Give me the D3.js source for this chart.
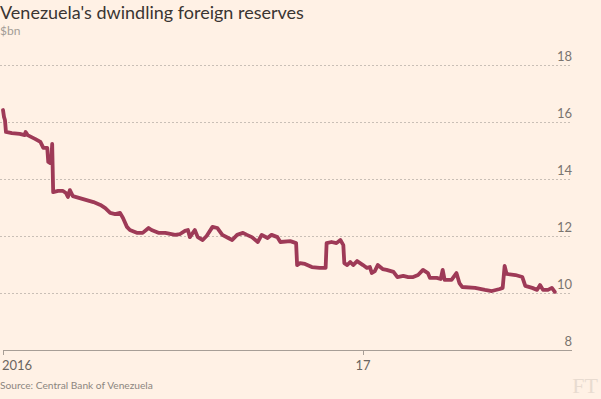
<!DOCTYPE html>
<html>
<head>
<meta charset="utf-8">
<script src="https://cdn.jsdelivr.net/npm/d3@7"></script>
<style>
  body { margin: 0; background: #fff1e5; }
  svg { display: block; }
</style>
</head>
<body>
<script>
var width = 601,
  height = 399;

// reserves, $bn
var dates = [
  "2016-01-01", "2016-01-02", "2016-01-03", "2016-01-04", "2016-01-10", "2016-01-18", "2016-01-23", "2016-01-24",
  "2016-01-26", "2016-01-30", "2016-02-03", "2016-02-08", "2016-02-11", "2016-02-15", "2016-02-16", "2016-02-18",
  "2016-02-19", "2016-02-20", "2016-02-21", "2016-02-26", "2016-03-02", "2016-03-05", "2016-03-07", "2016-03-09",
  "2016-03-12", "2016-03-19", "2016-03-26", "2016-04-02", "2016-04-09", "2016-04-14", "2016-04-19", "2016-04-24",
  "2016-04-29", "2016-05-02", "2016-05-06", "2016-05-09", "2016-05-16", "2016-05-22", "2016-05-28", "2016-05-31",
  "2016-06-07", "2016-06-14", "2016-06-24", "2016-06-29", "2016-07-04", "2016-07-07", "2016-07-09", "2016-07-14",
  "2016-07-17", "2016-07-22", "2016-07-26", "2016-08-01", "2016-08-06", "2016-08-11", "2016-08-17", "2016-08-21",
  "2016-08-26", "2016-09-01", "2016-09-05", "2016-09-10", "2016-09-16", "2016-09-20", "2016-09-26", "2016-09-30",
  "2016-10-06", "2016-10-09", "2016-10-19", "2016-10-25", "2016-10-26", "2016-10-29", "2016-11-03", "2016-11-10",
  "2016-11-18", "2016-11-24", "2016-11-25", "2016-11-30", "2016-12-05", "2016-12-09", "2016-12-12", "2016-12-13",
  "2016-12-16", "2016-12-19", "2016-12-22", "2016-12-26", "2016-12-29", "2017-01-01", "2017-01-05", "2017-01-08",
  "2017-01-10", "2017-01-13", "2017-01-16", "2017-01-21", "2017-01-25", "2017-02-01", "2017-02-05", "2017-02-11",
  "2017-02-16", "2017-02-21", "2017-02-26", "2017-03-03", "2017-03-08", "2017-03-10", "2017-03-17", "2017-03-21",
  "2017-03-23", "2017-03-25", "2017-04-01", "2017-04-06", "2017-04-09", "2017-04-12", "2017-04-25", "2017-05-05",
  "2017-05-12", "2017-05-20", "2017-05-23", "2017-05-25", "2017-05-27", "2017-06-05", "2017-06-12", "2017-06-15",
  "2017-06-22", "2017-06-27", "2017-06-30", "2017-07-03", "2017-07-08", "2017-07-12", "2017-07-15"
];
var reserves = [
  16.42, 16.18, 16.07, 15.65, 15.61, 15.58, 15.54, 15.65,
  15.54, 15.47, 15.40, 15.30, 15.09, 15.09, 14.60, 14.56,
  14.60, 15.23, 13.54, 13.58, 13.58, 13.51, 13.37, 13.61,
  13.40, 13.33, 13.26, 13.19, 13.09, 12.98, 12.81, 12.77,
  12.81, 12.63, 12.32, 12.21, 12.11, 12.11, 12.28, 12.21,
  12.11, 12.11, 12.04, 12.07, 12.18, 12.21, 11.96, 12.21,
  11.96, 11.86, 12.00, 12.32, 12.28, 12.04, 11.93, 11.86,
  12.04, 12.11, 12.04, 11.96, 11.79, 12.04, 11.93, 12.04,
  11.96, 11.79, 11.82, 11.75, 10.98, 11.05, 11.02, 10.91,
  10.88, 10.88, 11.75, 11.79, 11.75, 11.86, 11.68, 11.05,
  10.98, 11.09, 10.98, 11.12, 11.05, 10.98, 10.88, 10.91,
  10.70, 10.77, 10.98, 10.84, 10.81, 10.74, 10.56, 10.60,
  10.56, 10.56, 10.63, 10.81, 10.70, 10.53, 10.53, 10.49,
  10.81, 10.46, 10.46, 10.70, 10.35, 10.21, 10.18, 10.11,
  10.07, 10.14, 10.18, 10.95, 10.67, 10.63, 10.56, 10.25,
  10.18, 10.11, 10.28, 10.11, 10.11, 10.18, 10.04
];
var yTicks = [8, 10, 12, 14, 16, 18];
var xTicks = ["2016-01-01", "2017-01-01"];
var xTickLabels = ["2016", "17"];

var parse = d3.timeParse("%Y-%m-%d");
var series = dates.map(function(d, i) {
  return { date: parse(d), value: reserves[i] };
});

var x = d3.scaleTime()
  .domain([parse("2016-01-01"), parse("2017-01-01")])
  .range([3, 363]);

var y = d3.scaleLinear()
  .domain([8, 18])
  .range([350, 65]);

var svg = d3.select("body").append("svg")
  .attr("width", width)
  .attr("height", height);

svg.append("rect")
  .attr("width", width)
  .attr("height", height)
  .attr("fill", "#fff1e5");

// gridlines + labels on the right
var grid = svg.append("g").attr("class", "grid");
grid.selectAll("line")
  .data(yTicks.filter(function(d) { return d > 8; }))
  .enter().append("line")
  .attr("x1", 0)
  .attr("x2", 572)
  .attr("y1", function(d) { return y(d) + 0.5; })
  .attr("y2", function(d) { return y(d) + 0.5; })
  .attr("stroke", "#c9bfb6")
  .attr("stroke-width", 1)
  .attr("stroke-dasharray", "2,2");

grid.selectAll("text")
  .data(yTicks)
  .enter().append("text")
  .attr("x", 572)
  .attr("y", function(d) { return y(d) - 4; })
  .attr("text-anchor", "end")
  .attr("font-family", "Lato, 'Open Sans', sans-serif")
  .attr("font-size", 13)
  .attr("fill", "#7a746f")
  .text(function(d) { return d; });

// x axis baseline
svg.append("line")
  .attr("x1", 3)
  .attr("x2", 572)
  .attr("y1", y(8) + 0.5)
  .attr("y2", y(8) + 0.5)
  .attr("stroke", "#a79e96")
  .attr("stroke-width", 1);

var xt = svg.append("g").attr("class", "x-ticks");
xt.selectAll("line")
  .data(xTicks)
  .enter().append("line")
  .attr("x1", function(d) { return Math.round(x(parse(d))) + 0.5; })
  .attr("x2", function(d) { return Math.round(x(parse(d))) + 0.5; })
  .attr("y1", y(8))
  .attr("y2", y(8) + 5)
  .attr("stroke", "#a79e96");

xt.selectAll("text")
  .data(xTicks)
  .enter().append("text")
  .attr("x", function(d, i) { return i == 0 ? x(parse(d)) - 1 : x(parse(d)); })
  .attr("y", 370)
  .attr("text-anchor", function(d, i) { return i == 0 ? "start" : "middle"; })
  .attr("font-family", "Lato, 'Open Sans', sans-serif")
  .attr("font-size", 13)
  .attr("fill", "#6b655f")
  .text(function(d, i) { return xTickLabels[i]; });

// the line
var line = d3.line()
  .x(function(d) { return x(d.date); })
  .y(function(d) { return y(d.value); });

svg.append("path")
  .datum(series)
  .attr("d", line)
  .attr("fill", "none")
  .attr("stroke", "#9e3a57")
  .attr("stroke-width", 3.8)
  .attr("stroke-linejoin", "round")
  .attr("stroke-linecap", "round");

// titles
svg.append("text")
  .attr("x", 0)
  .attr("y", 19)
  .attr("font-family", "Lato, 'Open Sans', sans-serif")
  .attr("font-size", 18)
  .attr("fill", "#3a3532")
  .text("Venezuela's dwindling foreign reserves");

svg.append("text")
  .attr("x", 0)
  .attr("y", 35)
  .attr("font-family", "Lato, 'Open Sans', sans-serif")
  .attr("font-size", 12)
  .attr("fill", "#a39c96")
  .text("$bn");

svg.append("text")
  .attr("x", 0)
  .attr("y", 389)
  .attr("font-family", "Lato, 'Open Sans', sans-serif")
  .attr("font-size", 10.2)
  .attr("fill", "#8c8680")
  .text("Source: Central Bank of Venezuela");

svg.append("text")
  .attr("x", 598)
  .attr("y", 393)
  .attr("text-anchor", "end")
  .attr("font-family", "'Liberation Serif', 'DejaVu Serif', serif")
  .attr("font-size", 22)
  .attr("fill", "#e8dbd0")
  .text("FT");
</script>
</body>
</html>
